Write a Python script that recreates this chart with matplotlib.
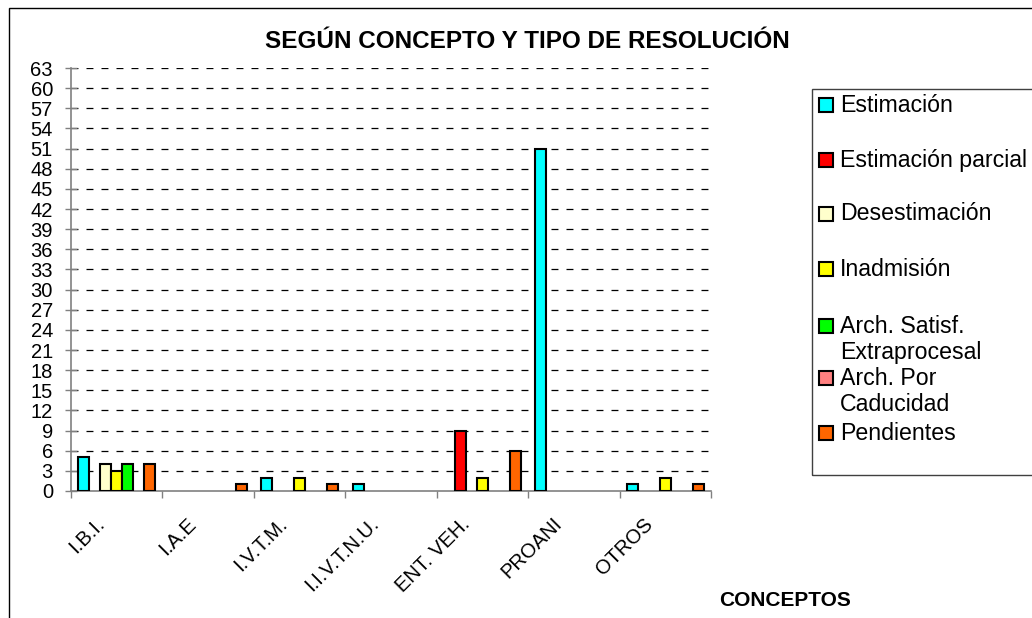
import matplotlib
matplotlib.use("Agg")
import matplotlib.pyplot as plt
from matplotlib.patches import Rectangle
from matplotlib.transforms import ScaledTranslation

# Data
conceptos = ["I.B.I.", "I.A.E", "I.V.T.M.", "I.I.V.T.N.U.", "ENT. VEH.", "PROANI", "OTROS"]
series = ["Estimación", "Estimación parcial", "Desestimación", "Inadmisión",
          "Arch. Satisf.\nExtraprocesal", "Arch. Por\nCaducidad", "Pendientes"]
colores = ["#00FFFF", "#FF0000", "#FFFFCC", "#FFFF00", "#00FF00", "#FF8080", "#FF6600"]

estimacion = [5, 0, 2, 1, 0, 51, 1]
estimacion_parcial = [0, 0, 0, 0, 9, 0, 0]
desestimacion = [4, 0, 0, 0, 0, 0, 0]
inadmision = [3, 0, 2, 0, 2, 0, 2]
arch_satisf = [4, 0, 0, 0, 0, 0, 0]
arch_caducidad = [0, 0, 0, 0, 0, 0, 0]
pendientes = [4, 1, 1, 0, 6, 0, 1]
valores = [estimacion, estimacion_parcial, desestimacion, inadmision,
           arch_satisf, arch_caducidad, pendientes]

yticks = list(range(0, 64, 3))

W, H = 1032, 618
plt.rcParams['font.family'] = ['Liberation Sans', 'DejaVu Sans']
plt.rcParams['lines.scale_dashes'] = False


def fx(px):
    return px / W


def fy(py):
    return 1 - py / H


fig = plt.figure(figsize=(W / 100, H / 100), dpi=100)
fig.patch.set_facecolor("white")

# outer frame of the chart object (runs off the right and bottom edge)
fig.patches.append(Rectangle((fx(8.5), fy(640)), fx(1060), fy(7.5) - fy(640),
                             transform=fig.transFigure, fill=False,
                             edgecolor="black", linewidth=1.0))

ax = fig.add_axes([fx(71), fy(491), fx(711) - fx(71), fy(68) - fy(491)])
ax.set_xlim(0, len(conceptos))
ax.set_ylim(0, 63)

bar_w = 0.12
offset = 0.08
for k, (vals, col) in enumerate(zip(valores, colores)):
    xs = [i + offset + k * bar_w for i, v in enumerate(vals) if v > 0]
    hs = [v for v in vals if v > 0]
    ax.bar(xs, hs, width=bar_w, align="edge", color=col,
           edgecolor="black", linewidth=1.5, zorder=3)

for y in yticks[1:]:
    ax.axhline(y, color="black", linewidth=0.9, linestyle=(0, (5.0, 5.8)), zorder=1)

for side in ["top", "right"]:
    ax.spines[side].set_visible(False)
for side in ["left", "bottom"]:
    ax.spines[side].set_color("#808080")
    ax.spines[side].set_linewidth(1.2)

ax.set_yticks(yticks)
ax.set_yticklabels([str(t) for t in yticks], fontsize=14.5)
ax.tick_params(axis="y", direction="inout", length=8, width=1, color="#808080", pad=9)

ax.set_xticks(range(len(conceptos) + 1))
ax.set_xticklabels([])
ax.tick_params(axis="x", which="major", direction="out", length=5, width=1, color="#808080")
ax.set_xticks([i + 0.5 for i in range(len(conceptos))], minor=True)
ax.set_xticklabels(conceptos, minor=True, rotation=45, ha="right", va="top",
                   rotation_mode="anchor", fontsize=14.5)
ax.tick_params(axis="x", which="minor", length=0, pad=24)
shift = ScaledTranslation(-22 / 100, 10 / 100, fig.dpi_scale_trans)
for lab in ax.get_xticklabels(minor=True):
    lab.set_transform(lab.get_transform() + shift)

fig.text(fx(527), fy(42), "SEGÚN CONCEPTO Y TIPO DE RESOLUCIÓN", ha="center", va="center",
         fontsize=17.5, fontweight="bold")
fig.text(fx(785), fy(601), "CONCEPTOS", ha="center", va="center",
         fontsize=15, fontweight="bold")

# legend
fig.patches.append(Rectangle((fx(812), fy(475)), fx(1040) - fx(812), fy(89) - fy(475),
                             transform=fig.transFigure, fill=False,
                             edgecolor="#404040", linewidth=1.0))
leg_y = [105, 160, 214, 269, 326, 378, 433]
for name, col, y in zip(series, colores, leg_y):
    fig.patches.append(Rectangle((fx(818.5), fy(y + 7)), fx(14), fy(0) - fy(14),
                                 transform=fig.transFigure, facecolor=col,
                                 edgecolor="black", linewidth=1.5))
    nlines = name.count("\n") + 1
    fig.text(fx(840), fy(y + (nlines - 1) * 13.5), name, ha="left", va="center",
             fontsize=16.7, linespacing=1.15)

fig.savefig("out.png", dpi=100, facecolor="white")
